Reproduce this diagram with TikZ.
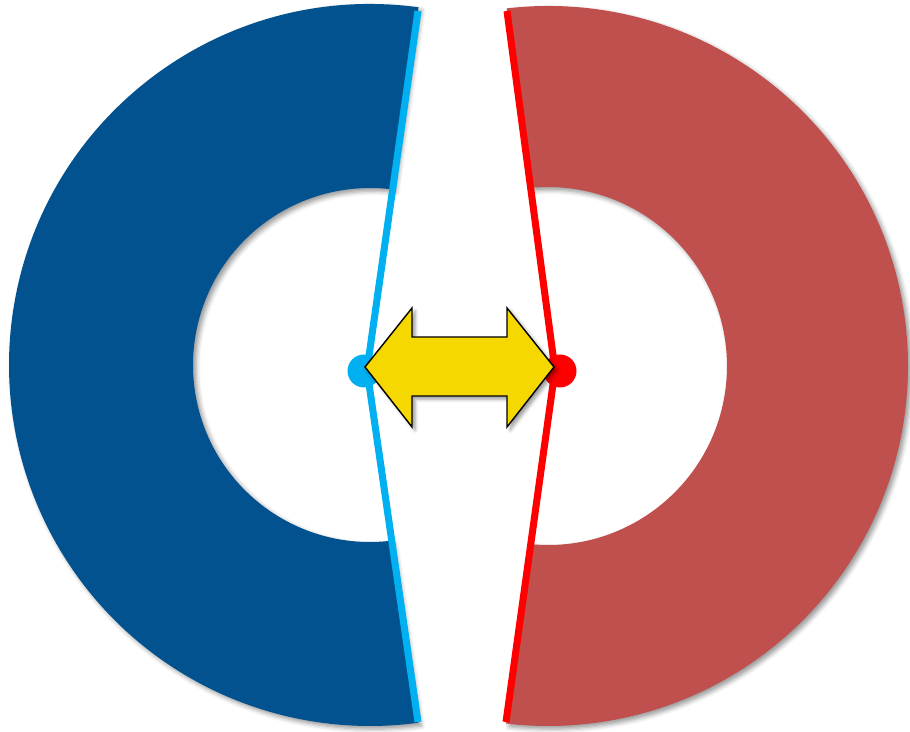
\documentclass[tikz,border=0pt]{standalone}
\usepackage{xcolor}
\usepackage{tikz}
\usetikzlibrary{calc,shadows.blur}
\definecolor{ringblue}{RGB}{2,82,144}
\definecolor{edgeblue}{RGB}{0,176,240}
\definecolor{ringred}{RGB}{192,80,77}
\definecolor{edgered}{RGB}{255,0,0}
\definecolor{swapyellow}{RGB}{245,216,0}
\tikzset{
  % --- half rings ------------------------------------------------------------
  ring/.style={blur shadow={shadow xshift=1.8pt,shadow yshift=-1.8pt,
               shadow blur radius=2.5pt,shadow opacity=40}},
  ringb/.style={ring,fill=ringblue},
  ringr/.style={ring,fill=ringred},
  % --- cut edges -------------------------------------------------------------
  cutb/.style={draw=edgeblue,line width=4pt},
  cutr/.style={draw=edgered,line width=4pt},
  % --- hinge dots ------------------------------------------------------------
  hinge/.style={circle,inner sep=0pt,minimum size=6.6mm},
  hingeb/.style={hinge,fill=edgeblue},
  hinger/.style={hinge,fill=edgered},
  % --- swap arrow ------------------------------------------------------------
  swap/.style={fill=swapyellow,draw=black,line width=0.8pt,line join=miter,
               blur shadow={shadow xshift=1.8pt,shadow yshift=-1.8pt,
               shadow blur radius=2pt,shadow opacity=40}},
}

\begin{document}
\begin{tikzpicture}[x=0.02cm, y=0.02cm]
  \useasboundingbox (0,0) rectangle (910,732);

  \coordinate (bc) at (370,367);
  \coordinate (rc) at (548,366);
  \coordinate (bt) at (418,721); \coordinate (bp) at (367,362); \coordinate (bb) at (418,10);
  \coordinate (rt) at (507,721); \coordinate (rp) at (555,362); \coordinate (rb) at (506,10);

  % left ring, cut along bt-bp-bb
  \fill[ringb] ($(bc)+(82.27:361)$) arc[start angle=82.27, end angle=277.66, radius=361]
    -- ($(bc)+(-82.95:177)$) arc[start angle=277.05, end angle=82.65, radius=177] -- cycle;
  % right ring, cut along rt-rp-rb
  \fill[ringr] ($(rc)+(96.6:360)$) arc[start angle=96.6, end angle=-96.73, radius=360]
    -- ($(rc)+(-95.51:179)$) arc[start angle=-95.51, end angle=95.55, radius=179] -- cycle;

  \draw[cutb] (bt) -- (bp) -- (bb);
  \draw[cutr] (rt) -- (rp) -- (rb);

  \node[hingeb] (bd) at (364,361) {};
  \node[hinger] (rd) at (560,361) {};

  \coordinate (sw) at (365,365);
  \filldraw[swap] (sw) -- ++(47,59) -- ++(0,-29) -- ++(95,0) -- ++(0,29) -- ++(47,-59)
    -- ++(-47,-60) -- ++(0,31) -- ++(-95,0) -- ++(0,-31) -- cycle;
\end{tikzpicture}
\end{document}
